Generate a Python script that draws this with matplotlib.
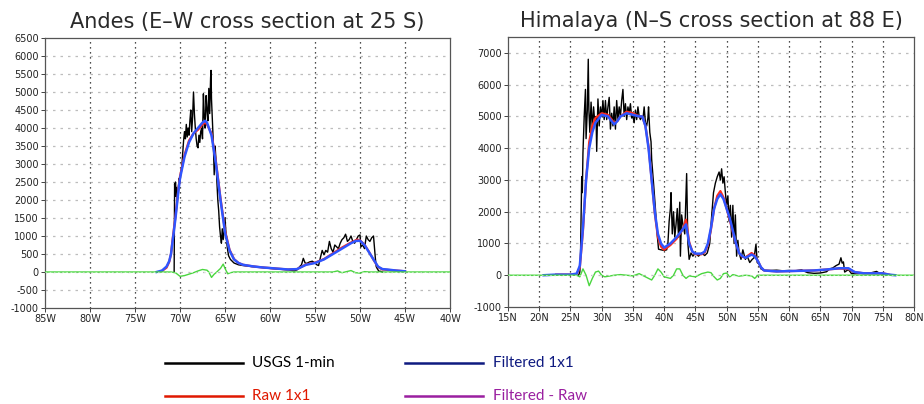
import matplotlib
matplotlib.use("Agg")
import matplotlib.pyplot as plt
from matplotlib.lines import Line2D
from matplotlib.ticker import FixedLocator, FuncFormatter

# ---------------- data ----------------
titles = ["Andes (E\u2013W cross section at 25 S)", "Himalaya (N\u2013S cross section at 88 E)"]
legend_labels = ["USGS 1-min", "Filtered 1x1", "Raw 1x1", "Filtered - Raw"]

# Andes (longitude, negative = West)
andes_usgs_x = [-70.65, -70.6, -70.55, -70.5, -70.45, -70.4, -70.3, -70.2, -70.1, -70.0, -69.9, -69.8, -69.7,
                -69.6, -69.5, -69.4, -69.3, -69.2, -69.1, -69.0, -68.9, -68.8, -68.7, -68.6, -68.5, -68.4,
                -68.3, -68.2, -68.1, -68.0, -67.9, -67.8, -67.7, -67.6, -67.5, -67.4, -67.3, -67.2, -67.1,
                -67.0, -66.9, -66.8, -66.7, -66.6, -66.55, -66.5, -66.4, -66.3, -66.2, -66.1, -66.0, -65.9,
                -65.8, -65.7, -65.6, -65.5, -65.4, -65.3, -65.2, -65.1, -65.0, -64.9, -64.8, -64.7, -64.6,
                -64.4, -64.2, -64.0, -63.5, -63.0, -62.0, -61.0, -60.0, -59.0, -58.0, -57.3, -57.0, -56.7,
                -56.5, -56.3, -56.1, -55.9, -55.6, -55.3, -55.0, -54.8, -54.6, -54.4, -54.2, -54.0, -53.8,
                -53.6, -53.4, -53.2, -53.0, -52.8, -52.6, -52.4, -52.2, -52.0, -51.8, -51.6, -51.4, -51.2,
                -51.0, -50.8, -50.6, -50.4, -50.2, -50.0, -49.9, -49.7, -49.5, -49.3, -49.1, -48.9, -48.7,
                -48.5, -48.4, -48.3, -48.2, -48.1, -47.9, -47.7, -47.5]
andes_usgs_y = [0, 2450, 2200, 2500, 2100, 2350, 2000, 2300, 2600, 2500, 2800, 2900, 3300,
                3650, 3900, 3700, 4100, 3750, 4000, 3800, 4200, 4500, 3900, 4300, 5000, 4400,
                4000, 3700, 3500, 3450, 3800, 3600, 3900, 4000, 3700, 4950, 4300, 4000, 4900,
                4500, 4200, 5100, 4400, 5400, 5600, 4800, 4200, 3600, 2700, 3500, 3100, 2500,
                2000, 1700, 1250, 1000, 800, 1200, 900, 1100, 1500, 1100, 800, 600, 450,
                350, 300, 250, 200, 180, 150, 130, 100, 80, 60, 30, 60, 150,
                200, 380, 250, 240, 280, 300, 250, 200, 180, 400, 600, 480, 600,
                550, 850, 650, 550, 750, 700, 650, 800, 900, 950, 1050, 850, 900,
                1000, 850, 800, 900, 1000, 1030, 700, 750, 650, 1000, 900, 850, 950,
                1000, 700, 400, 150, 100, 20, 20, 0]

andes_filt_x = [-72.6, -72.0, -71.5, -71.2, -71.0, -70.8, -70.5, -70.2, -70.0, -69.5, -69.0, -68.5, -68.0,
                -67.5, -67.2, -67.0, -66.5, -66.0, -65.5, -65.0, -64.5, -64.0, -63.5, -63.0, -62.0, -61.0,
                -60.0, -59.0, -58.0, -57.0, -56.0, -55.0, -54.0, -53.0, -52.0, -51.0, -50.5, -50.0, -49.5,
                -49.0, -48.5, -48.0, -47.5, -47.0, -46.0, -45.0]
andes_filt_y = [0, 40, 150, 300, 500, 900, 1500, 2200, 2600, 3200, 3600, 3850, 4000,
                4150, 4200, 4150, 3800, 3000, 2000, 1100, 600, 350, 250, 200, 160, 130,
                110, 90, 70, 80, 200, 250, 350, 500, 650, 800, 860, 870, 750,
                550, 350, 150, 80, 70, 40, 20]

andes_raw_x = [-72.0, -71.5, -71.2, -71.0, -70.8, -70.5, -70.2, -70.0, -69.5, -69.0, -68.5, -68.0,
               -67.5, -67.2, -67.0, -66.5, -66.0, -65.5, -65.0, -64.5, -64.0, -63.5, -63.0, -62.0, -61.0,
               -60.0, -59.0, -58.0, -57.0, -56.0, -55.0, -54.0, -53.0, -52.0, -51.0, -50.3, -50.0, -49.5,
               -49.0, -48.5, -48.0, -47.5, -47.0, -46.0, -45.0]
andes_raw_y = [30, 120, 280, 500, 950, 1550, 2250, 2650, 3250, 3650, 3850, 3950,
               4100, 4150, 4100, 3850, 3050, 2050, 1150, 620, 360, 250, 200, 160, 130,
               110, 90, 70, 80, 210, 260, 360, 520, 680, 820, 900, 880, 760,
               560, 340, 140, 70, 60, 40, 20]

andes_diff_x = [-85.0, -71.0, -70.5, -70.0, -69.5, -69.0, -68.5, -68.0, -67.5, -67.0, -66.8, -66.5, -66.2,
                -66.0, -65.5, -65.2, -65.0, -64.7, -64.4, -64.0, -53.0, -52.5, -52.0, -51.5, -51.0, -50.5,
                -50.0, -49.5, -49.0, -40.0]
andes_diff_y = [0, 0, -20, -120, -100, -60, -20, 30, 70, 50, 0, -150, -60,
                -20, 100, 220, 100, -50, -20, 0, 0, 30, -20, 10, 40, -20,
                -30, 10, 0, 0]

# Himalaya (latitude, North)
him_usgs_x = [26.3, 26.5, 26.6, 26.7, 26.8, 26.9, 27.0, 27.2, 27.4, 27.5, 27.7, 27.85, 27.95, 28.1, 28.3,
              28.5, 28.7, 28.9, 29.1, 29.2, 29.4, 29.6, 29.8, 30.0, 30.2, 30.4, 30.6, 30.8, 31.0, 31.2,
              31.4, 31.6, 31.8, 32.0, 32.2, 32.4, 32.6, 32.8, 33.0, 33.2, 33.4, 33.6, 33.8, 34.0, 34.2,
              34.4, 34.6, 34.8, 35.0, 35.2, 35.4, 35.6, 35.8, 36.0, 36.2, 36.4, 36.6, 36.8, 37.0, 37.2,
              37.4, 37.5, 37.7, 37.9, 38.0, 38.3, 38.6, 38.9, 39.1, 39.5, 40.0, 40.4, 40.6, 40.8, 41.0,
              41.1, 41.3, 41.5, 41.7, 41.9, 42.1, 42.3, 42.5, 42.6, 42.8, 43.0, 43.3, 43.6, 43.8, 44.0,
              44.3, 44.6, 45.0, 45.5, 46.0, 46.5, 46.9, 47.3, 47.6, 47.9, 48.2, 48.5, 48.8, 49.0, 49.2,
              49.4, 49.6, 49.8, 50.0, 50.2, 50.4, 50.6, 50.8, 51.0, 51.2, 51.4, 51.6, 51.8, 52.0, 52.3,
              52.6, 53.0, 53.3, 53.7, 54.1, 54.4, 54.7, 54.9, 55.2, 55.5, 56.0, 57.0, 58.0, 59.0, 60.0,
              61.0, 62.0, 62.5, 63.0, 64.0, 65.0, 66.0, 66.5, 67.0, 67.5, 68.0, 68.3, 68.5, 68.7, 68.9,
              69.5, 70.0, 71.0, 72.0, 73.0, 74.0, 74.5, 75.0, 75.5]
him_usgs_y = [0, 100, 550, 1850, 3100, 2600, 3850, 5000, 5850, 4300, 5200, 6800, 5200, 4500, 5450,
              4600, 5300, 4800, 5000, 3900, 5550, 4700, 5300, 5000, 5500, 4900, 5500, 4900, 5300, 5600,
              4600, 5100, 4700, 5300, 4600, 5500, 4900, 5300, 5000, 5500, 5850, 5000, 5400, 4900, 5300,
              5100, 5400, 4950, 5000, 4800, 5200, 4900, 5300, 5000, 4900, 5000, 4900, 5300, 4800, 4700,
              4950, 5300, 4500, 4200, 3650, 2900, 2100, 1250, 820, 800, 780, 800, 1000, 1700, 2100,
              2600, 1300, 2000, 1200, 1600, 2100, 1200, 2300, 600, 1900, 1600, 1300, 3200, 1000, 500,
              700, 600, 700, 600, 700, 620, 700, 1000, 1850, 2600, 2900, 3100, 3250, 3000, 3350,
              2900, 3100, 2600, 2200, 2500, 1700, 2200, 1200, 2200, 1000, 1900, 600, 1100, 700, 500,
              800, 500, 600, 400, 500, 550, 980, 400, 350, 200, 150, 150, 160, 140, 150,
              140, 170, 120, 80, 60, 70, 110, 200, 230, 300, 350, 550, 380, 420, 100,
              180, 50, 50, 60, 70, 120, 60, 40, 0]

him_filt_x = [20.7, 22.7, 25.0, 26.0, 26.5, 27.0, 27.5, 28.0, 28.5, 29.0, 30.0, 31.0, 32.0, 32.5, 33.0,
              34.0, 35.0, 36.0, 36.5, 37.0, 37.5, 38.0, 38.5, 39.0, 39.5, 40.0, 41.0, 42.0, 43.0, 43.5,
              44.0, 44.5, 45.0, 46.0, 46.5, 47.0, 47.5, 48.0, 48.5, 49.0, 49.5, 50.0, 50.5, 51.0, 51.5,
              52.0, 52.5, 53.0, 54.0, 54.5, 55.0, 55.5, 56.0, 58.0, 60.0, 62.0, 64.0, 66.0, 68.0, 69.5,
              70.5, 72.0, 75.0, 76.0, 77.0]
him_filt_y = [0, 20, 20, 50, 300, 1500, 3000, 4000, 4500, 4800, 5050, 5000, 4750, 4850, 5000,
              5100, 5050, 5000, 5000, 4700, 4000, 3000, 2000, 1300, 1000, 870, 1000, 1200, 1450, 1600,
              1000, 750, 680, 680, 750, 1000, 1500, 2100, 2400, 2550, 2400, 2100, 1800, 1400, 1000,
              700, 600, 550, 650, 600, 450, 250, 150, 120, 130, 140, 150, 180, 220, 220,
              100, 60, 60, 20, 0]

him_raw_x = [22.7, 25.0, 26.0, 26.5, 27.0, 27.5, 28.0, 28.5, 29.0, 30.0, 31.0, 32.0, 32.5, 33.0,
             34.0, 35.0, 36.0, 36.5, 37.0, 37.5, 38.0, 38.5, 39.0, 39.5, 40.0, 41.0, 42.0, 43.0, 43.5,
             44.0, 44.5, 45.0, 46.0, 46.5, 47.0, 47.5, 48.0, 48.5, 49.0, 49.5, 50.0, 50.5, 51.0, 51.5,
             52.0, 52.5, 53.0, 54.0, 54.5, 55.0, 55.5, 56.0, 58.0, 60.0, 62.0, 64.0, 66.0, 68.0, 69.5,
             70.5, 72.0, 75.0, 76.0]
him_raw_y = [20, 20, 40, 250, 1400, 3000, 4200, 4700, 4950, 5100, 5050, 4800, 4850, 5000,
             5150, 5100, 5000, 5000, 4700, 4050, 3000, 1950, 1200, 900, 800, 950, 1150, 1450, 1750,
             1050, 750, 660, 660, 720, 950, 1450, 2100, 2500, 2650, 2450, 2100, 1750, 1350, 1000,
             700, 580, 560, 700, 620, 450, 250, 150, 120, 130, 140, 150, 180, 210, 200,
             100, 60, 60, 20]

him_diff_x = [15.0, 26.0, 26.5, 27.0, 27.5, 28.0, 28.5, 29.0, 29.5, 30.0, 30.5, 32.0, 33.0, 35.0, 36.0,
              37.0, 38.0, 38.5, 39.0, 39.5, 40.0, 41.0, 41.5, 42.0, 42.5, 43.0, 43.5, 44.0, 45.0, 46.0,
              47.0, 47.5, 48.0, 48.5, 49.0, 49.5, 50.0, 50.5, 51.0, 52.0, 53.0, 54.0, 54.5, 55.0, 56.0,
              80.0]
him_diff_y = [0, 0, -50, 200, 0, -330, -100, 100, 130, 0, -50, 0, 20, -20, 50,
              -50, -150, 0, 200, 100, -50, -100, 0, 200, 200, 0, -100, -20, -50, 50,
              100, 80, -50, -150, -100, 50, 70, -50, 20, -30, 0, -20, -100, 0, 0,
              0]

andes_xticks = [-85, -80, -75, -70, -65, -60, -55, -50, -45, -40]
andes_yticks = [-1000, -500, 0, 500, 1000, 1500, 2000, 2500, 3000, 3500, 4000, 4500, 5000, 5500, 6000, 6500]
him_xticks = [15, 20, 25, 30, 35, 40, 45, 50, 55, 60, 65, 70, 75, 80]
him_yticks = [-1000, 0, 1000, 2000, 3000, 4000, 5000, 6000, 7000]

# ---------------- style ----------------
C_BLACK = "#000000"
C_RED = "#ff2a1a"
C_BLUE = "#2f55ff"
C_GREEN = "#4ad63f"
C_LEG_NAVY = "#0f1a80"
C_LEG_RED = "#e01800"
C_LEG_PURPLE = "#9a1fa0"

fig = plt.figure(figsize=(9.24, 4.04), dpi=100)
fig.patch.set_facecolor("white")

ax1 = fig.add_axes([45 / 924, 1 - 308 / 404, 405 / 924, 270 / 404])
ax2 = fig.add_axes([508 / 924, 1 - 307 / 404, 406 / 924, 270 / 404])


def style_axis(ax, xticks, yticks, xlim, ylim, xfmt, hgrid):
    ax.set_xlim(*xlim)
    ax.set_ylim(*ylim)
    ax.xaxis.set_major_locator(FixedLocator(xticks))
    ax.yaxis.set_major_locator(FixedLocator(yticks))
    ax.xaxis.set_major_formatter(FuncFormatter(xfmt))
    ax.yaxis.set_major_formatter(FuncFormatter(lambda v, p: "%d" % v))
    ax.tick_params(axis="both", labelsize=7, length=3, width=0.6, direction="out",
                   colors="#222222", pad=1.5)
    for s in ax.spines.values():
        s.set_color("#555555")
        s.set_linewidth(0.9)
    for xv in xticks[1:-1]:
        ax.axvline(xv, color="#111111", lw=0.9, ls=(0, (1, 3)), zorder=1)
    for yv in hgrid:
        ax.axhline(yv, color="#bdbdbd", lw=0.9, ls=(0, (2, 4)), zorder=1)


style_axis(ax1, andes_xticks, andes_yticks, (-85, -40), (-1000, 6500),
           lambda v, p: "%dW" % abs(v), andes_yticks[1:-1])
style_axis(ax2, him_xticks, him_yticks, (15, 80), (-1000, 7500),
           lambda v, p: "%dN" % v, him_yticks[1:])

for ax, ux, uy, rx, ry, fx, fy, dx, dy in [
    (ax1, andes_usgs_x, andes_usgs_y, andes_raw_x, andes_raw_y, andes_filt_x, andes_filt_y, andes_diff_x, andes_diff_y),
    (ax2, him_usgs_x, him_usgs_y, him_raw_x, him_raw_y, him_filt_x, him_filt_y, him_diff_x, him_diff_y),
]:
    ax.plot(ux, uy, color=C_BLACK, lw=1.0, zorder=3)
    ax.plot(rx, ry, color=C_RED, lw=1.6, zorder=4)
    ax.plot(fx, fy, color=C_BLUE, lw=1.8, zorder=5)
    ax.plot(dx, dy, color=C_GREEN, lw=1.0, zorder=6)
    ax.axhline(0, color="white", lw=0.6, ls=(0, (2, 3)), alpha=0.6, zorder=7)

ax1.set_title(titles[0], fontsize=15, color="#2a2a2a", pad=7)
ax2.set_title(titles[1], fontsize=15, color="#2a2a2a", pad=7)

# ---------------- legend (figure level) ----------------
leg_colors = [C_BLACK, C_LEG_NAVY, C_LEG_RED, C_LEG_PURPLE]
leg_text_colors = ["#000000", C_LEG_NAVY, C_LEG_RED, C_LEG_PURPLE]
leg_cols = [(165, 243, 252), (405, 483, 493)]
leg_rows = [363, 396]
for i, lab in enumerate(legend_labels):
    r, c = divmod(i, 2)
    x0, x1, xt = leg_cols[c]
    yy = 1 - leg_rows[r] / 404
    fig.add_artist(Line2D([x0 / 924, x1 / 924], [yy, yy], transform=fig.transFigure,
                          color=leg_colors[i], lw=1.8))
    fig.text(xt / 924, yy, lab, color=leg_text_colors[i], fontsize=11,
             family=["Lato", "DejaVu Sans"], va="center", ha="left")

fig.savefig("out.png", dpi=100, facecolor="white")
